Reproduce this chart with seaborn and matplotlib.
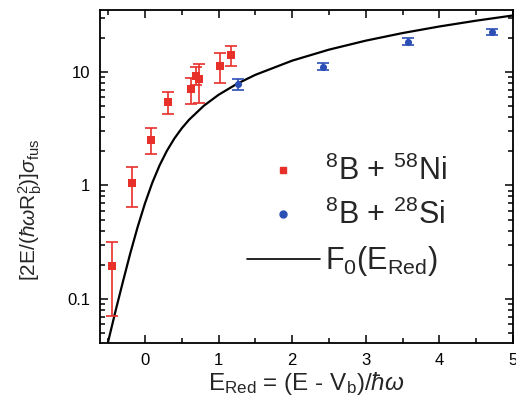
import numpy as np
import pandas as pd
import matplotlib
matplotlib.use("Agg")
import matplotlib.pyplot as plt
from matplotlib.lines import Line2D
from matplotlib.ticker import LogLocator, MultipleLocator, FixedFormatter, FixedLocator, NullFormatter
import seaborn as sns

# 8B + 58Ni: reduced energy, reduced fusion cross section, error bar limits
ni_x = [-0.45, -0.17, 0.08, 0.32, 0.62, 0.69, 0.74, 1.02, 1.17]
ni_y = [0.196, 1.05, 2.5, 5.45, 7.1, 9.3, 8.6, 11.3, 14.0]
ni_lo = [0.071, 0.65, 1.9, 4.3, 5.25, 7.6, 5.3, 8.05, 11.3]
ni_hi = [0.32, 1.45, 3.18, 6.6, 8.9, 11.0, 11.8, 14.6, 17.0]

# 8B + 28Si
si_x = [1.27, 2.42, 3.58, 4.72]
si_y = [7.8, 11.1, 18.5, 22.4]
si_lo = [6.9, 10.4, 17.1, 21.0]
si_hi = [8.6, 11.9, 19.8, 23.8]

# universal fusion function F0(E_Red)
f0_x = [-0.5, -0.4, -0.3, -0.2, -0.1, 0.0, 0.1, 0.2, 0.3, 0.4, 0.5, 0.6,
        0.8, 1.0, 1.25, 1.5, 2.0, 2.5, 3.0, 3.5, 4.0, 4.5, 5.0]
f0_y = [0.042, 0.078, 0.141, 0.251, 0.428, 0.693, 1.056, 1.507, 2.027, 2.592,
        3.184, 3.793, 5.033, 6.285, 7.854, 9.425, 12.566, 15.708, 18.85,
        21.99, 25.13, 28.27, 31.42]

x_ticks = [0, 1, 2, 3, 4, 5]
y_ticks = [0.1, 1, 10]
y_tick_labels = ["0.1", "1", "10"]

RED = "#e8302a"
BLUE = "#2b4fb5"

sns.set_style("ticks")
plt.rcParams["font.family"] = ["Liberation Sans", "DejaVu Sans"]
plt.rcParams["mathtext.fontset"] = "custom"
plt.rcParams["mathtext.rm"] = "Liberation Sans"
plt.rcParams["mathtext.it"] = "Liberation Sans:italic"
plt.rcParams["mathtext.bf"] = "Liberation Sans:bold"

fig = plt.figure(figsize=(5.16, 4.13), dpi=100)
ax = fig.add_axes([100 / 516, 70 / 413, 413 / 516, 333 / 413])

ni = pd.DataFrame({"x": ni_x, "y": ni_y, "lo": ni_lo, "hi": ni_hi})
si = pd.DataFrame({"x": si_x, "y": si_y, "lo": si_lo, "hi": si_hi})
f0 = pd.DataFrame({"x": f0_x, "y": f0_y})

sns.lineplot(data=f0, x="x", y="y", ax=ax, color="black", lw=1.6, zorder=2)

for df, col in ((ni, RED), (si, BLUE)):
    ax.errorbar(df["x"], df["y"], yerr=[df["y"] - df["lo"], df["hi"] - df["y"]],
                fmt="none", ecolor=col, elinewidth=1.2, capsize=4, capthick=1.2, zorder=3)

sns.scatterplot(data=ni, x="x", y="y", ax=ax, marker="s", s=30, color=RED,
                edgecolor=RED, linewidth=0, zorder=4)
sns.scatterplot(data=si, x="x", y="y", ax=ax, marker="o", s=26, color=BLUE,
                edgecolor=BLUE, linewidth=0, zorder=4)

ax.set_yscale("log")
ax.set_xlim(-0.61, 5.0)
ax.set_ylim(0.041, 35.1)

ax.xaxis.set_major_locator(FixedLocator(x_ticks))
ax.xaxis.set_minor_locator(MultipleLocator(0.5))
ax.yaxis.set_major_locator(FixedLocator(y_ticks))
ax.yaxis.set_major_formatter(FixedFormatter(y_tick_labels))
ax.yaxis.set_minor_locator(LogLocator(base=10, subs=np.arange(2, 10)))
ax.yaxis.set_minor_formatter(NullFormatter())

ax.tick_params(which="both", direction="in", top=True, right=True, width=1.1,
               labelsize=12, colors="black")
ax.tick_params(which="major", length=6, pad=7)
ax.tick_params(which="minor", length=3.5)
for sp in ax.spines.values():
    sp.set_linewidth(1.3)
    sp.set_color("black")

ax.set_xlabel(r"E$_{\rm Red}$ = (E - V$_{\rm b}$)/$\hbar\omega$", fontsize=17.5)
ax.set_ylabel(r"[2E/($\hbar\omega$R$_{\rm b}^{2}$)]$\sigma_{\rm fus}$", fontsize=15)
ax.xaxis.set_label_coords(0.5, -0.08)
ax.yaxis.set_label_coords(-0.135, 0.40)

handles = [
    Line2D([], [], ls="none", marker="s", ms=5, color=RED),
    Line2D([], [], ls="none", marker="o", ms=5, color=BLUE),
    Line2D([], [], color="black", lw=1.2),
]
labels = [r"$^{8}$B + $^{58}$Ni", r"$^{8}$B + $^{28}$Si", r"F$_{0}$(E$_{\rm Red}$)"]
ax.legend(handles, labels, loc="center", bbox_to_anchor=(0.597, 0.378),
          frameon=False, fontsize=22, handlelength=2.4, handletextpad=0.15,
          labelspacing=0.42, borderpad=0.2)

fig.savefig("out.png", dpi=100)
